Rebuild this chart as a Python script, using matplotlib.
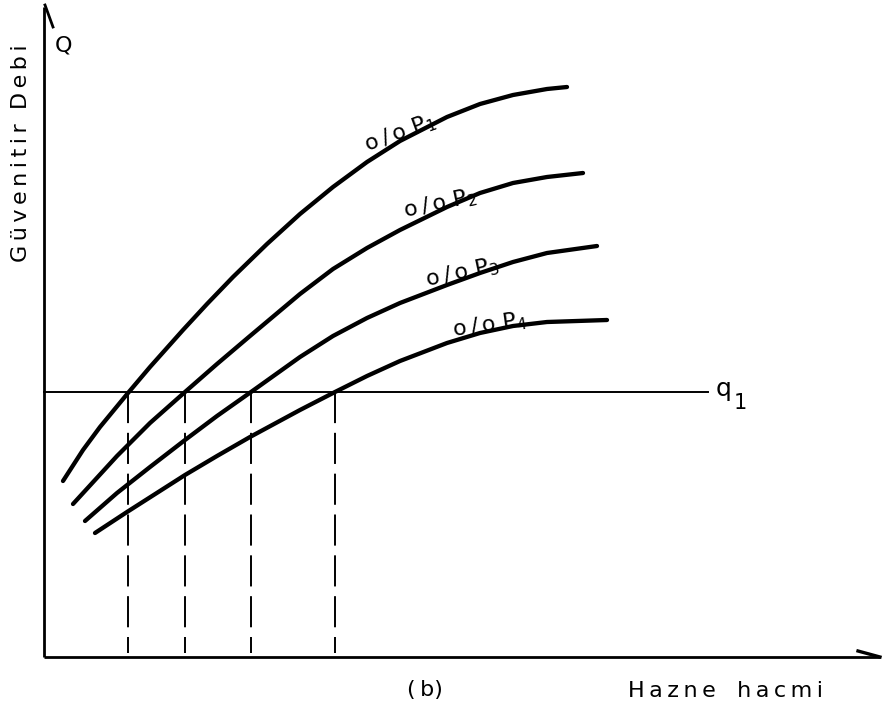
import numpy as np
import matplotlib
matplotlib.use("Agg")
import matplotlib.pyplot as plt

plt.rcParams['font.family'] = ['DejaVu Sans']

# Storage (Hazne hacmi) vs. firm yield (Güvenilir debi) curves for four probability levels
storage_p1 = [19, 39, 56, 84, 106, 139, 163, 189, 223, 256, 289, 323, 356, 403, 436, 469, 503, 523]
yield_p1 = [176, 207, 230, 264, 290, 327, 353, 380, 413, 443, 470, 495, 516, 540, 553, 562, 568, 570]

storage_p2 = [29, 73, 106, 141, 173, 206, 256, 289, 323, 356, 403, 436, 469, 503, 539]
yield_p2 = [153, 201, 234, 265, 293, 321, 363, 388, 409, 427, 450, 464, 474, 480, 484]

storage_p3 = [41, 73, 106, 141, 173, 207, 256, 289, 323, 356, 403, 436, 469, 503, 553]
yield_p3 = [136, 164, 190, 217, 241, 265, 300, 321, 339, 354, 372, 384, 395, 404, 411]

storage_p4 = [51, 83, 141, 173, 206, 256, 291, 323, 356, 403, 436, 469, 503, 563]
yield_p4 = [124, 145, 182, 201, 220, 247, 265, 281, 296, 314, 324, 331, 335, 337]

curve_labels = ["1", "2", "3", "4"]

# Target yield q1 and the storages required for it on each curve
q1 = 265
q1_line_end = 664
required_storage = [84, 141, 207, 291]

fig = plt.figure(figsize=(8.83, 7.13), dpi=100)
ax = fig.add_axes([0, 0, 1, 1])
ax.set_xlim(-44, 839)
ax.set_ylim(-56, 657)
ax.axis('off')

ink = 'black'
TS = "\u2009"  # thin space for the wide technical lettering


def spaced(word):
    return TS.join(word)


# Axes drawn as arrows
ax.plot([0, 0], [0, 650], color=ink, lw=2.0, solid_capstyle='butt')
ax.plot([1, 9], [652, 630], color=ink, lw=2.0)
ax.plot([0, 836], [0, 0], color=ink, lw=2.0, solid_capstyle='butt')
ax.plot([814, 836], [6, 0], color=ink, lw=2.4)

# Probability curves
curves = [(storage_p1, yield_p1), (storage_p2, yield_p2),
          (storage_p3, yield_p3), (storage_p4, yield_p4)]
for xs, ys in curves:
    ax.plot(xs, ys, color=ink, lw=3.1, solid_capstyle='round', solid_joinstyle='round')

# q1 level and projections down to the storage axis
ax.plot([0, q1_line_end], [q1, q1], color=ink, lw=1.4)
for s in required_storage:
    ax.plot([s, s], [q1, 4], color=ink, lw=1.4, dashes=(16, 5))

# Curve labels sitting on each curve, subscript crossing the line
label_spots = [(356, 8, 20), (396, 7, 12), (418, 7, 12), (446, 6, 8)]
for (xs, ys), lab, (lx, dy, ang) in zip(curves, curve_labels, label_spots):
    ly = np.interp(lx, xs, ys)
    ax.text(lx, ly + dy, "o" + TS + "/" + TS + "o P$_{%s}$" % lab,
            fontsize=16, rotation=ang, ha='center', va='center',
            rotation_mode='anchor', color=ink)

# Axis texts
ax.text(20, 612, "Q", fontsize=16, ha='center', va='center', color=ink)
ax.text(-23, 504, spaced("Güvenitir") + "  " + spaced("Debi"), fontsize=16,
        rotation=90, ha='center', va='center', color=ink)
ax.text(q1_line_end + 8, q1 + 3, "q", fontsize=18, ha='left', va='center', color=ink)
ax.text(q1_line_end + 26, q1 - 11, "1", fontsize=15, ha='left', va='center', color=ink)
ax.text(381, -33, "(" + TS + "b)", fontsize=16, ha='center', va='center', color=ink)
ax.text(682, -34, spaced("Hazne") + "   " + spaced("hacmi"),
        fontsize=16, ha='center', va='center', color=ink)

fig.savefig("out.png", dpi=100, facecolor='white')
